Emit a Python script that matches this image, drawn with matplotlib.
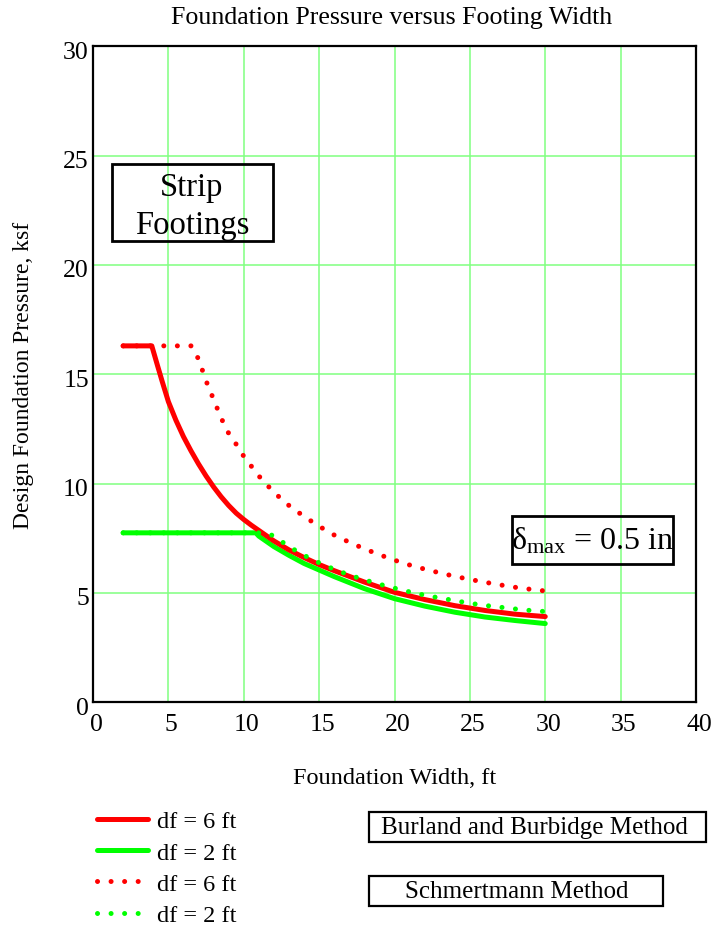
import matplotlib
matplotlib.use("Agg")
import matplotlib.pyplot as plt
from matplotlib.patches import Rectangle
from matplotlib.transforms import ScaledTranslation

plt.rcParams['font.family'] = ['Liberation Serif', 'DejaVu Serif']
plt.rcParams['mathtext.fontset'] = 'custom'
plt.rcParams['mathtext.rm'] = 'Liberation Serif'
plt.rcParams['mathtext.it'] = 'Liberation Serif:italic'

# ---- data ----
b_red_solid = [2, 3.9, 4.3, 4.6, 5, 5.5, 6, 6.5, 7, 7.5, 8, 8.5, 9, 9.5, 10, 10.5, 11, 12, 13, 14, 15, 16, 18, 20, 22, 24, 26, 28, 30]
q_red_solid = [16.3, 16.3, 15.35, 14.65, 13.75, 12.9, 12.15, 11.5, 10.9, 10.35, 9.85, 9.4, 9.0, 8.65, 8.36, 8.1, 7.86, 7.38, 6.97, 6.62, 6.3, 6.02, 5.5, 5.03, 4.7, 4.42, 4.2, 4.03, 3.92]

b_green_solid = [2, 10.8, 11, 12, 13, 14, 15, 16, 18, 20, 22, 24, 26, 28, 30]
q_green_solid = [7.75, 7.75, 7.6, 7.12, 6.72, 6.35, 6.05, 5.75, 5.2, 4.74, 4.4, 4.12, 3.9, 3.74, 3.6]

b_red_dot = [2, 6.5, 7, 7.5, 8, 8.5, 9, 9.5, 10, 11, 12, 13, 14, 15, 16, 17, 18, 19, 20, 21, 22, 23, 24, 25, 26, 27, 28, 29, 30]
q_red_dot = [16.3, 16.3, 15.7, 14.7, 13.85, 13.0, 12.3, 11.8, 11.25, 10.35, 9.6, 9.0, 8.5, 8.05, 7.65, 7.32, 7.02, 6.75, 6.5, 6.28, 6.09, 5.92, 5.76, 5.62, 5.49, 5.37, 5.26, 5.17, 5.09]

b_green_dot = [2, 11.5, 12, 13, 14, 15, 16, 17, 18, 19, 20, 21, 22, 23, 24, 25, 26, 27, 28, 29, 30]
q_green_dot = [7.75, 7.75, 7.6, 7.12, 6.72, 6.38, 6.08, 5.82, 5.6, 5.4, 5.22, 5.05, 4.9, 4.77, 4.65, 4.53, 4.43, 4.35, 4.27, 4.2, 4.15]

x_ticks = [0, 5, 10, 15, 20, 25, 30, 35, 40]
y_ticks = [0, 5, 10, 15, 20, 25, 30]
labels = ["df = 6 ft", "df = 2 ft", "df = 6 ft", "df = 2 ft"]

W, H = 714, 928
fig = plt.figure(figsize=(W / 100, H / 100), dpi=100)

def fbox(x0, y0, x1, y1):
    return (x0 / W, 1 - y1 / H, (x1 - x0) / W, (y1 - y0) / H)

ax = fig.add_axes(fbox(93, 47.3, 696, 703.3))
ax.set_xlim(0, 40)
ax.set_ylim(0, 30)
ax.set_xticks(x_ticks)
ax.set_yticks(y_ticks)
ax.tick_params(length=0, labelsize=18.5)
ax.tick_params(axis='x', pad=8)
ax.tick_params(axis='y', pad=3)
for lab in ax.get_yticklabels():
    lab.set_transform(lab.get_transform() + ScaledTranslation(0, -3 / 100, fig.dpi_scale_trans))
for lab in ax.get_xticklabels():
    lab.set_transform(lab.get_transform() + ScaledTranslation(3 / 100, 0, fig.dpi_scale_trans))
ax.grid(True, color='#80ff80', linewidth=1.1)
ax.set_axisbelow(True)
for s in ax.spines.values():
    s.set_linewidth(1.6)
    s.set_color('black')

lw = 3.6
dot = (0, (0.01, 2.7))
l1, = ax.plot(b_red_solid, q_red_solid, color='#ff0000', lw=lw, solid_capstyle='round', solid_joinstyle='round')
l2, = ax.plot(b_green_solid, q_green_solid, color='#00ff00', lw=lw, solid_capstyle='round', solid_joinstyle='round')
l3, = ax.plot(b_red_dot, q_red_dot, color='#ff0000', lw=lw, linestyle=dot, dash_capstyle='round')
l4, = ax.plot(b_green_dot, q_green_dot, color='#00ff00', lw=lw, linestyle=dot, dash_capstyle='round')
l1.set_zorder(3)
l2.set_zorder(2.5)
l4.set_zorder(3.5)

ax.set_xlabel("Foundation Width, ft", fontsize=17.5)
ax.set_ylabel("Design Foundation Pressure, ksf", fontsize=17)
ax.xaxis.set_label_coords(0.5, -0.099)
ax.yaxis.set_label_coords(-0.098, 0.5)

fig.text(392 / W, 1 - 18 / H, "Foundation Pressure versus Footing Width", fontsize=18.6,
         ha='center', va='center')

def draw_box(x0, y0, x1, y1, lw=2.0):
    fig.add_artist(Rectangle(fbox(x0, y0, x1, y1)[:2], (x1 - x0) / W, (y1 - y0) / H,
                             transform=fig.transFigure, fill=False, edgecolor='black',
                             linewidth=lw, zorder=10))

draw_box(112, 165, 273, 242)
fig.text(192 / W, 1 - 207 / H, "Strip\nFootings", fontsize=23.5, ha='center', va='center',
         linespacing=1.3, zorder=11)

draw_box(512, 517, 673, 565)
fig.text(593 / W, 1 - 541 / H, r"$\mathrm{δ_{max}}$ = 0.5 in", fontsize=23, ha='center', va='center', zorder=11)

draw_box(369, 813, 706, 843, lw=1.6)
fig.text(534 / W, 1 - 828 / H, "Burland and Burbidge Method", fontsize=18, ha='center', va='center')
draw_box(369, 877, 663, 907, lw=1.6)
fig.text(517 / W, 1 - 892 / H, "Schmertmann Method", fontsize=18, ha='center', va='center')

leg = fig.legend([l1, l2, l3, l4], labels, loc='upper left',
                 bbox_to_anchor=(97 / W, 1 - 811 / H), frameon=False, fontsize=17.5,
                 handlelength=2.1, handletextpad=0.38, labelspacing=0.39,
                 borderpad=0, borderaxespad=0)

fig.savefig("out.png", dpi=100)
